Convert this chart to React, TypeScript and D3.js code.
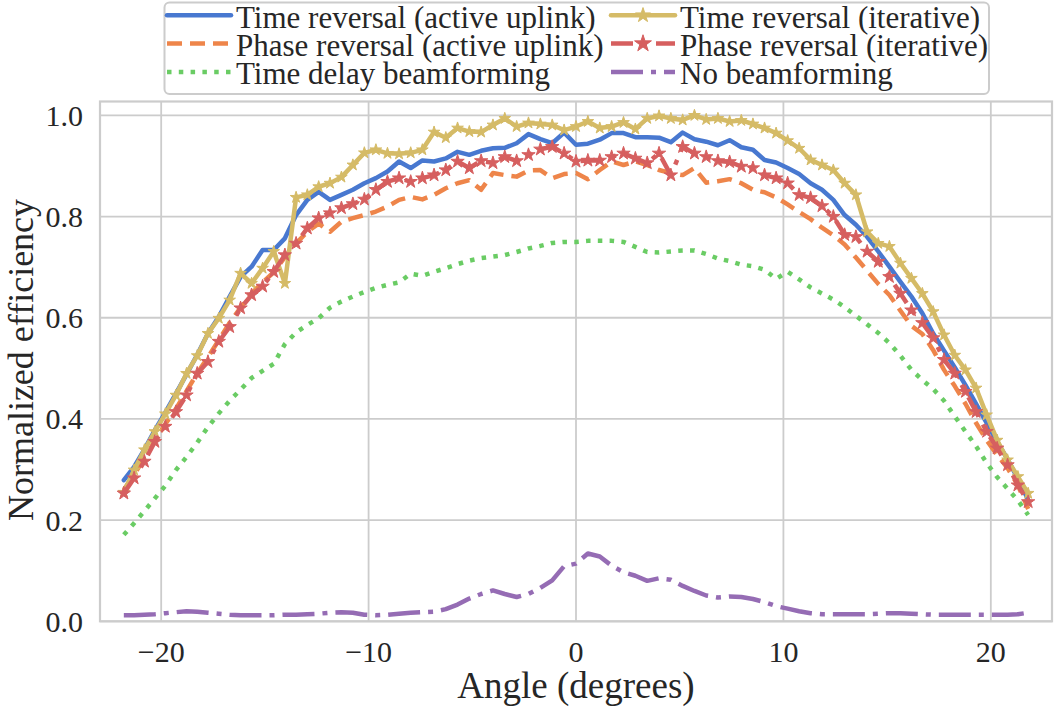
import React from "react";
import * as d3 from "d3";

// Angle grid (degrees)
const angles = [
  -21.801, -21.306, -20.807, -20.305, -19.799, -19.29, -18.778, -18.263, -17.745, -17.223,
  -16.699, -16.172, -15.642, -15.11, -14.574, -14.036, -13.496, -12.953, -12.407, -11.86,
  -11.31, -10.758, -10.204, -9.648, -9.09, -8.531, -7.97, -7.407, -6.843, -6.277,
  -5.711, -5.143, -4.574, -4.004, -3.434, -2.862, -2.291, -1.718, -1.146, -0.573,
  0,
  0.573, 1.146, 1.718, 2.291, 2.862, 3.434, 4.004, 4.574, 5.143, 5.711,
  6.277, 6.843, 7.407, 7.97, 8.531, 9.09, 9.648, 10.204, 10.758, 11.31,
  11.86, 12.407, 12.953, 13.496, 14.036, 14.574, 15.11, 15.642, 16.172, 16.699,
  17.223, 17.745, 18.263, 18.778, 19.29, 19.799, 20.305, 20.807, 21.306, 21.801,
];

const trActive = [
  0.279, 0.305, 0.34, 0.378, 0.413, 0.45, 0.488, 0.527, 0.569, 0.602,
  0.642, 0.681, 0.701, 0.734, 0.734, 0.757, 0.803, 0.833, 0.849, 0.833,
  0.843, 0.853, 0.866, 0.876, 0.889, 0.909, 0.896, 0.911, 0.909, 0.915,
  0.928, 0.922, 0.93, 0.935, 0.936, 0.945, 0.963, 0.953, 0.945, 0.966,
  0.942,
  0.944, 0.952, 0.965, 0.965, 0.957, 0.957, 0.956, 0.947, 0.966, 0.953,
  0.948, 0.941, 0.951, 0.937, 0.932, 0.912, 0.907, 0.896, 0.884, 0.866,
  0.853, 0.833, 0.803, 0.784, 0.76, 0.731, 0.701, 0.671, 0.642, 0.609,
  0.569, 0.535, 0.502, 0.467, 0.43, 0.392, 0.355, 0.32, 0.282, 0.24,
];

const prActive = [
  0.26, 0.29, 0.322, 0.357, 0.39, 0.42, 0.455, 0.49, 0.522, 0.556,
  0.59, 0.62, 0.648, 0.67, 0.69, 0.72, 0.747, 0.77, 0.786, 0.77,
  0.79, 0.797, 0.803, 0.81, 0.82, 0.833, 0.839, 0.834, 0.843, 0.856,
  0.866, 0.872, 0.853, 0.886, 0.882, 0.879, 0.891, 0.892, 0.876, 0.884,
  0.886,
  0.874, 0.892, 0.909, 0.902, 0.909, 0.902, 0.892, 0.886, 0.882, 0.896,
  0.867, 0.87, 0.874, 0.866, 0.853, 0.848, 0.838, 0.824, 0.809, 0.795,
  0.778, 0.763, 0.745, 0.719, 0.693, 0.667, 0.645, 0.614, 0.584, 0.568,
  0.536, 0.497, 0.465, 0.43, 0.392, 0.358, 0.329, 0.303, 0.269, 0.222,
];

const tdBeam = [
  0.171, 0.194, 0.218, 0.243, 0.268, 0.299, 0.325, 0.353, 0.384, 0.411,
  0.436, 0.458, 0.481, 0.495, 0.509, 0.548, 0.571, 0.586, 0.599, 0.62,
  0.632, 0.642, 0.651, 0.659, 0.665, 0.67, 0.687, 0.683, 0.691, 0.698,
  0.706, 0.713, 0.718, 0.721, 0.724, 0.73, 0.737, 0.742, 0.748, 0.75,
  0.75,
  0.752, 0.752, 0.752, 0.75, 0.74, 0.73, 0.729, 0.731, 0.733, 0.733,
  0.726, 0.717, 0.712, 0.705, 0.702, 0.695, 0.677, 0.691, 0.676, 0.66,
  0.648, 0.636, 0.621, 0.604, 0.587, 0.57, 0.55, 0.525, 0.497, 0.477,
  0.459, 0.436, 0.405, 0.375, 0.346, 0.313, 0.285, 0.262, 0.239, 0.21,
];

const trIter = [
  0.255, 0.299, 0.339, 0.375, 0.41, 0.447, 0.49, 0.525, 0.569, 0.599,
  0.635, 0.688, 0.668, 0.698, 0.731, 0.668, 0.838, 0.843, 0.859, 0.866,
  0.878, 0.902, 0.926, 0.932, 0.925, 0.924, 0.926, 0.932, 0.967, 0.956,
  0.975, 0.968, 0.967, 0.981, 0.994, 0.978, 0.985, 0.983, 0.981, 0.971,
  0.978,
  0.988, 0.975, 0.978, 0.986, 0.973, 0.994, 0.999, 0.994, 0.991, 1.0,
  0.992, 0.994, 0.988, 0.99, 0.983, 0.975, 0.965, 0.95, 0.935, 0.912,
  0.902, 0.892, 0.866, 0.843, 0.77, 0.747, 0.741, 0.708, 0.678, 0.648,
  0.612, 0.566, 0.526, 0.497, 0.461, 0.408, 0.358, 0.319, 0.286, 0.253,
];

const prIter = [
  0.253, 0.283, 0.316, 0.355, 0.385, 0.414, 0.447, 0.49, 0.513, 0.553,
  0.582, 0.619, 0.645, 0.662, 0.691, 0.724, 0.747, 0.777, 0.797, 0.807,
  0.817, 0.825, 0.834, 0.853, 0.869, 0.876, 0.869, 0.876, 0.882, 0.892,
  0.909, 0.896, 0.91, 0.906, 0.918, 0.91, 0.922, 0.933, 0.938, 0.925,
  0.909,
  0.911, 0.911, 0.918, 0.925, 0.915, 0.906, 0.925, 0.882, 0.938, 0.925,
  0.918, 0.91, 0.908, 0.899, 0.896, 0.882, 0.876, 0.866, 0.843, 0.837,
  0.821, 0.8, 0.764, 0.76, 0.731, 0.711, 0.681, 0.648, 0.615, 0.59,
  0.56, 0.517, 0.49, 0.454, 0.414, 0.375, 0.342, 0.309, 0.269, 0.236,
];

const noBeam = [
  0.012, 0.012, 0.013, 0.014, 0.016, 0.018, 0.02, 0.019, 0.017, 0.015,
  0.013, 0.012, 0.012, 0.012, 0.012, 0.013, 0.013, 0.014, 0.015, 0.017,
  0.018, 0.017, 0.013, 0.012, 0.013, 0.015, 0.017, 0.018, 0.019, 0.024,
  0.033, 0.045, 0.054, 0.061, 0.054, 0.048, 0.054, 0.066, 0.081, 0.109,
  0.114,
  0.134, 0.128, 0.11, 0.097, 0.09, 0.08, 0.085, 0.082, 0.07, 0.06,
  0.051, 0.047, 0.049, 0.048, 0.044, 0.038, 0.03, 0.025, 0.02, 0.016,
  0.014, 0.014, 0.014, 0.014, 0.014, 0.015, 0.016, 0.016, 0.015, 0.014,
  0.013, 0.013, 0.013, 0.013, 0.013, 0.013, 0.013, 0.013, 0.014, 0.017,
];

const xTicks = [-20, -10, 0, 10, 20];
const yTicks = [0, 0.2, 0.4, 0.6, 0.8, 1.0];
const xLabel = "Angle (degrees)";
const yLabel = "Normalized efficiency";

type Series = {
  name: string;
  values: number[];
  color: string;
  dash?: string;
  marker?: number;
  col: number;
  row: number;
};

const seriesList: Series[] = [
  { name: "Time reversal (active uplink)", values: trActive, color: "#4878d0", col: 0, row: 0 },
  { name: "Phase reversal (active uplink)", values: prActive, color: "#ee854a", dash: "15 8", col: 0, row: 1 },
  { name: "Time delay beamforming", values: tdBeam, color: "#6acc64", dash: "4.5 7.3", col: 0, row: 2 },
  { name: "Time reversal (iterative)", values: trIter, color: "#d5bb67", marker: 42, col: 1, row: 0 },
  { name: "Phase reversal (iterative)", values: prIter, color: "#d65f5f", dash: "22 9 5 9", marker: 55, col: 1, row: 1 },
  { name: "No beamforming", values: noBeam, color: "#956cb4", dash: "32 8 5 8", col: 1, row: 2 },
];

const FONT = "'Liberation Serif', 'Times New Roman', Times, serif";

export default function App() {
  const W = 1055;
  const H = 707;
  const left = 100, right = 1052, top = 101.5, bottom = 621.3;
  const x = d3.scaleLinear().domain([-22.95, 22.95]).range([left, right]);
  const y = d3.scaleLinear().domain([0, 1.0275]).range([bottom, top]);
  const LW = 4.5;

  const lineGen = (vals: number[]) =>
    d3
      .line<number>()
      .x((_, i) => x(angles[i]))
      .y((d) => y(d))(vals) || "";

  const starPath = (size: number) => d3.symbol().type(d3.symbolStar).size(size)() || "";

  const legendCols = [
    { hx0: 167, hx1: 231, tx: 236 },
    { hx0: 611, hx1: 675, tx: 680 },
  ];
  const rowY = (r: number) => 15.3 + r * 28.3;

  return (
    <svg
      width={W}
      height={H}
      style={{ position: "absolute", left: 0, top: 0, background: "#fff" }}
      fontFamily={FONT}
    >
      <rect x={0} y={0} width={W} height={H} fill="#fff" />
      {/* grid */}
      {xTicks.map((t) => (
        <line key={"gx" + t} x1={x(t)} x2={x(t)} y1={top} y2={bottom} stroke="#cccccc" strokeWidth={1.8} />
      ))}
      {yTicks.map((t) => (
        <line key={"gy" + t} x1={left} x2={right} y1={y(t)} y2={y(t)} stroke="#cccccc" strokeWidth={1.8} />
      ))}
      {/* series */}
      {seriesList.map((s) => (
        <g key={s.name}>
          <path
            d={lineGen(s.values)}
            fill="none"
            stroke={s.color}
            strokeWidth={LW}
            strokeDasharray={s.dash}
            strokeLinejoin="round"
            strokeLinecap={s.dash ? "butt" : "round"}
          />
          {s.marker
            ? s.values.map((v, i) => (
                <path
                  key={i}
                  d={starPath(s.marker as number)}
                  transform={`translate(${x(angles[i])},${y(v)})`}
                  fill={s.color}
                  stroke={s.color}
                  strokeWidth={1}
                />
              ))
            : null}
        </g>
      ))}
      {/* spines */}
      <rect x={left} y={top} width={right - left} height={bottom - top} fill="none" stroke="#cccccc" strokeWidth={2.2} />
      {/* tick labels */}
      {xTicks.map((t) => (
        <text key={"tx" + t} x={x(t)} y={662} fontSize={30} textAnchor="middle" fill="#262626">
          {t < 0 ? "\u2212" + Math.abs(t) : String(t)}
        </text>
      ))}
      {yTicks.map((t) => (
        <text key={"ty" + t} x={83} y={y(t) + 10.4} fontSize={30} textAnchor="end" fill="#262626">
          {t.toFixed(1)}
        </text>
      ))}
      {/* axis labels */}
      <text x={576} y={698} fontSize={37} textAnchor="middle" fill="#262626">
        {xLabel}
      </text>
      <text transform="translate(33,360) rotate(-90)" fontSize={36} textAnchor="middle" fill="#262626">
        {yLabel}
      </text>
      {/* legend */}
      <rect x={164.5} y={2.5} width={824.5} height={91.5} rx={5} fill="#fff" fillOpacity={0.8} stroke="#cccccc" strokeWidth={2} />
      {seriesList.map((s) => {
        const c = legendCols[s.col];
        const yy = rowY(s.row);
        return (
          <g key={"lg" + s.name}>
            <line
              x1={c.hx0}
              x2={c.hx1}
              y1={yy}
              y2={yy}
              stroke={s.color}
              strokeWidth={LW}
              strokeDasharray={s.dash}
              strokeLinecap={s.dash ? "butt" : "round"}
            />
            {s.marker ? (
              <path
                d={starPath(s.marker * 1.6)}
                transform={`translate(${(c.hx0 + c.hx1) / 2},${yy})`}
                fill={s.color}
                stroke={s.color}
                strokeWidth={1}
              />
            ) : null}
            <text x={c.tx} y={yy + 12.3} fontSize={31} fill="#262626">
              {s.name}
            </text>
          </g>
        );
      })}
    </svg>
  );
}
